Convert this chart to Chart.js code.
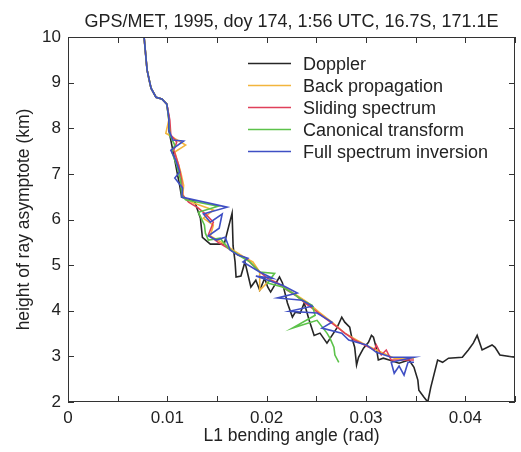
<!DOCTYPE html>
<html>
<head>
<meta charset="utf-8">
<script src="https://cdn.jsdelivr.net/npm/chart.js@4/dist/chart.umd.min.js"></script>
<style>
  html, body { margin: 0; padding: 0; background: #fff; }
  #wrap { width: 521px; height: 452px; }
</style>
</head>
<body>
<div id="wrap"><canvas id="chart" width="521" height="452"></canvas></div>
<script>
// bending angle (rad) vs height of ray asymptote (km)
const dopplerX = [0.00766, 0.00786, 0.00796, 0.00816, 0.00836, 0.00886, 0.00945, 0.00995, 0.01015, 0.01015,
  0.01035, 0.01075, 0.01104, 0.01124, 0.01144, 0.01274, 0.01333, 0.01353, 0.01433, 0.01572,
  0.01652, 0.01662, 0.01682, 0.01692, 0.01741, 0.01781, 0.01841, 0.01891, 0.01930, 0.01980,
  0.02010, 0.02040, 0.02129, 0.02159, 0.02209, 0.02259, 0.02289, 0.02338, 0.02378, 0.02428,
  0.02478, 0.02537, 0.02607, 0.02706, 0.02756, 0.02786, 0.02836, 0.02856, 0.02886, 0.02905,
  0.02925, 0.02975, 0.03025, 0.03055, 0.03075, 0.03104, 0.03124, 0.03174, 0.03234, 0.03333,
  0.03433, 0.03483, 0.03522, 0.03532, 0.03582, 0.03622, 0.03652, 0.03721, 0.03771, 0.03831,
  0.03970, 0.04030, 0.04080, 0.04119, 0.04169, 0.04269, 0.04299, 0.04348, 0.04498];
const dopplerY = [10.00, 9.50, 9.28, 9.06, 8.88, 8.68, 8.64, 8.53, 8.25, 7.96,
  7.74, 7.30, 6.97, 6.75, 6.49, 6.40, 6.03, 5.61, 5.46, 5.46,
  6.14, 5.42, 5.07, 4.74, 4.76, 5.07, 4.52, 4.67, 4.45, 4.71,
  4.52, 4.41, 4.74, 4.61, 4.17, 3.86, 3.97, 3.95, 4.17, 3.79,
  3.46, 3.51, 3.29, 3.62, 3.86, 3.75, 3.64, 3.42, 3.20, 2.81,
  2.98, 3.18, 3.31, 3.46, 3.42, 3.18, 2.92, 2.96, 2.92, 2.85,
  2.92, 2.76, 2.48, 2.26, 2.11, 2.00, 2.32, 2.92, 2.87, 2.96,
  2.98, 3.14, 3.29, 3.46, 3.14, 3.25, 3.20, 3.03, 2.98];

const backX = [0.00766, 0.00796, 0.00836, 0.00886, 0.00945, 0.00995, 0.01015, 0.00985, 0.01065, 0.01184,
  0.01075, 0.01114, 0.01134, 0.01164, 0.01154, 0.01264, 0.01463, 0.01363, 0.01463, 0.01433,
  0.01562, 0.01662, 0.01791, 0.01861, 0.01930, 0.01930, 0.02030, 0.02159, 0.02289, 0.02408,
  0.02527, 0.02657, 0.02786, 0.02905, 0.03025, 0.03154, 0.03284, 0.03483];
const backY = [10.00, 9.28, 8.88, 8.68, 8.64, 8.53, 8.18, 7.89, 7.79, 7.63,
  7.48, 7.19, 7.04, 6.75, 6.49, 6.36, 6.21, 6.03, 5.88, 5.64,
  5.48, 5.33, 5.15, 5.07, 4.85, 4.45, 4.67, 4.54, 4.36, 4.19,
  3.97, 3.75, 3.51, 3.36, 3.22, 3.09, 2.96, 2.96];

const slidingX = [0.00766, 0.00796, 0.00836, 0.00886, 0.00945, 0.00995, 0.01025, 0.01035, 0.01095, 0.01065,
  0.01114, 0.01144, 0.01154, 0.01214, 0.01313, 0.01393, 0.01463, 0.01413, 0.01512, 0.01612,
  0.01711, 0.01791, 0.01861, 0.01930, 0.02010, 0.02109, 0.02209, 0.02289, 0.02388, 0.02488,
  0.02587, 0.02687, 0.02786, 0.02886, 0.02985, 0.03085, 0.03104, 0.03154, 0.03204, 0.03254,
  0.03483];
const slidingY = [10.00, 9.28, 8.88, 8.68, 8.64, 8.53, 8.18, 7.85, 7.70, 7.52,
  7.19, 6.86, 6.54, 6.38, 6.25, 6.10, 5.94, 5.66, 5.50, 5.37,
  5.22, 5.15, 5.00, 4.85, 4.71, 4.61, 4.45, 4.34, 4.17, 4.01,
  3.84, 3.68, 3.51, 3.36, 3.25, 3.14, 3.25, 3.03, 3.14, 2.92,
  2.92];

const canonicalX = [0.00766, 0.00796, 0.00836, 0.00886, 0.00945, 0.00995, 0.01015, 0.01025, 0.01075, 0.01045,
  0.01095, 0.01134, 0.01144, 0.01184, 0.01512, 0.01313, 0.01373, 0.01383, 0.01413, 0.01532,
  0.01612, 0.01731, 0.01831, 0.01930, 0.02080, 0.02010, 0.02159, 0.02259, 0.02358, 0.02458,
  0.02488, 0.02259, 0.02507, 0.02607, 0.02637, 0.02677, 0.02687, 0.02726];
const canonicalY = [10.00, 9.28, 8.88, 8.68, 8.64, 8.53, 8.18, 7.85, 7.63, 7.48,
  7.19, 6.86, 6.54, 6.43, 6.29, 6.16, 5.88, 5.70, 5.55, 5.59,
  5.37, 5.20, 5.07, 4.85, 4.82, 4.61, 4.52, 4.39, 4.23, 4.12,
  3.90, 3.62, 3.79, 3.51, 3.40, 3.20, 3.03, 2.87];

const fullX = [0.00766, 0.00796, 0.00836, 0.00886, 0.00945, 0.00995, 0.01015, 0.01015, 0.01055, 0.01164,
  0.01035, 0.01085, 0.01124, 0.01075, 0.01154, 0.01144, 0.01602, 0.01363, 0.01433, 0.01552,
  0.01522, 0.01413, 0.01493, 0.01582, 0.01632, 0.01711, 0.01811, 0.01761, 0.01930, 0.02060,
  0.01891, 0.02159, 0.02308, 0.02109, 0.02358, 0.02458, 0.02229, 0.02507, 0.02657, 0.02557,
  0.02756, 0.02826, 0.03005, 0.03104, 0.03254, 0.03483, 0.03254, 0.03284, 0.03333, 0.03383,
  0.03423, 0.03483];
const fullY = [10.00, 9.28, 8.88, 8.68, 8.64, 8.53, 8.22, 7.96, 7.74, 7.72,
  7.52, 7.30, 7.04, 6.91, 6.69, 6.49, 6.27, 6.12, 5.94, 6.12,
  5.81, 5.64, 5.55, 5.61, 5.33, 5.22, 5.15, 5.07, 4.85, 4.71,
  4.76, 4.56, 4.39, 4.28, 4.23, 4.10, 3.99, 3.95, 3.75, 3.62,
  3.51, 3.36, 3.25, 3.09, 2.98, 2.98, 2.87, 2.63, 2.79, 2.59,
  2.87, 2.87];

const xTickLabels = ['0', '0.01', '0.02', '0.03', '0.04'];
const yTicks = [2, 3, 4, 5, 6, 7, 8, 9, 10];

const FONT = "'Liberation Sans', Arial, Helvetica, sans-serif";
const TITLE = 'GPS/MET, 1995, doy 174, 1:56 UTC, 16.7S, 171.1E';

function pts(xs, ys) {
  return xs.map((v, i) => ({ x: v, y: ys[i] }));
}

function series(label, xs, ys, color, order) {
  return {
    label: label,
    data: pts(xs, ys),
    borderColor: color,
    backgroundColor: color,
    borderWidth: 1.6,
    pointRadius: 0,
    showLine: true,
    tension: 0,
    order: order
  };
}

// frame, inward ticks, title and legend inside the plot
const decorations = {
  id: 'decorations',
  afterDraw(chart) {
    const ctx = chart.ctx;
    const a = chart.chartArea;
    const sx = chart.scales.x, sy = chart.scales.y;
    ctx.save();
    ctx.strokeStyle = '#333';
    ctx.lineWidth = 1;
    ctx.strokeRect(Math.round(a.left) + 0.5, Math.round(a.top) + 0.5,
      Math.round(a.right - a.left) - 1, Math.round(a.bottom - a.top) - 1);

    ctx.beginPath();
    sx.ticks.forEach(t => {
      const p = Math.round(sx.getPixelForValue(t.value)) + 0.5;
      ctx.moveTo(p, a.bottom); ctx.lineTo(p, a.bottom - 6);
      ctx.moveTo(p, a.top); ctx.lineTo(p, a.top + 6);
    });
    sy.ticks.forEach(t => {
      const p = Math.round(sy.getPixelForValue(t.value)) + 0.5;
      ctx.moveTo(a.left, p); ctx.lineTo(a.left + 6, p);
      ctx.moveTo(a.right, p); ctx.lineTo(a.right - 6, p);
    });
    ctx.stroke();

    ctx.fillStyle = '#222';
    ctx.font = '18px ' + FONT;
    ctx.textAlign = 'center';
    ctx.textBaseline = 'alphabetic';
    ctx.fillText(TITLE, (a.left + a.right) / 2, 27);

    ctx.textAlign = 'left';
    ctx.font = '18px ' + FONT;
    chart.data.datasets.forEach((ds, i) => {
      const ly = 63.5 + i * 22;
      ctx.strokeStyle = ds.borderColor;
      ctx.lineWidth = 1.5;
      ctx.beginPath();
      ctx.moveTo(248, ly); ctx.lineTo(291, ly);
      ctx.stroke();
      ctx.fillStyle = '#222';
      ctx.fillText(ds.label, 303, ly + 6.5);
    });
    ctx.restore();
  }
};

new Chart(document.getElementById('chart').getContext('2d'), {
  type: 'scatter',
  data: {
    datasets: [
      series('Doppler', dopplerX, dopplerY, '#262626', 5),
      series('Back propagation', backX, backY, '#f2b53c', 4),
      series('Sliding spectrum', slidingX, slidingY, '#e0405a', 3),
      series('Canonical transform', canonicalX, canonicalY, '#5cc24a', 2),
      series('Full spectrum inversion', fullX, fullY, '#3f4fc4', 1)
    ]
  },
  options: {
    responsive: false,
    animation: false,
    layout: { padding: { top: 37, right: 2, left: 0, bottom: 0 } },
    plugins: {
      legend: { display: false },
      title: { display: false },
      tooltip: { enabled: false }
    },
    scales: {
      x: {
        type: 'linear',
        min: 0,
        max: 0.045,
        grid: { display: false, drawTicks: false },
        border: { display: false },
        afterFit(scale) { scale.height = 50; },
        ticks: {
          stepSize: 0.005,
          padding: 6,
          color: '#222',
          font: { size: 17, family: FONT },
          maxRotation: 0,
          autoSkip: false,
          callback: function (v) {
            const k = Math.round(v * 1000);
            if (k % 10 !== 0) return '';
            return xTickLabels[k / 10];
          }
        },
        title: {
          display: true,
          text: 'L1 bending angle (rad)',
          color: '#222',
          font: { size: 17.5, family: FONT },
          padding: { top: 0, bottom: 5 }
        }
      },
      y: {
        type: 'linear',
        min: yTicks[0],
        max: yTicks[yTicks.length - 1],
        grid: { display: false, drawTicks: false },
        border: { display: false },
        afterFit(scale) { scale.width = 68; },
        ticks: {
          stepSize: 1,
          padding: 7,
          color: '#222',
          font: { size: 17, family: FONT }
        },
        title: {
          display: true,
          text: 'height of ray asymptote (km)',
          color: '#222',
          font: { size: 17.5, family: FONT },
          padding: { top: 14, bottom: 0 }
        }
      }
    }
  },
  plugins: [decorations]
});
</script>
</body>
</html>
